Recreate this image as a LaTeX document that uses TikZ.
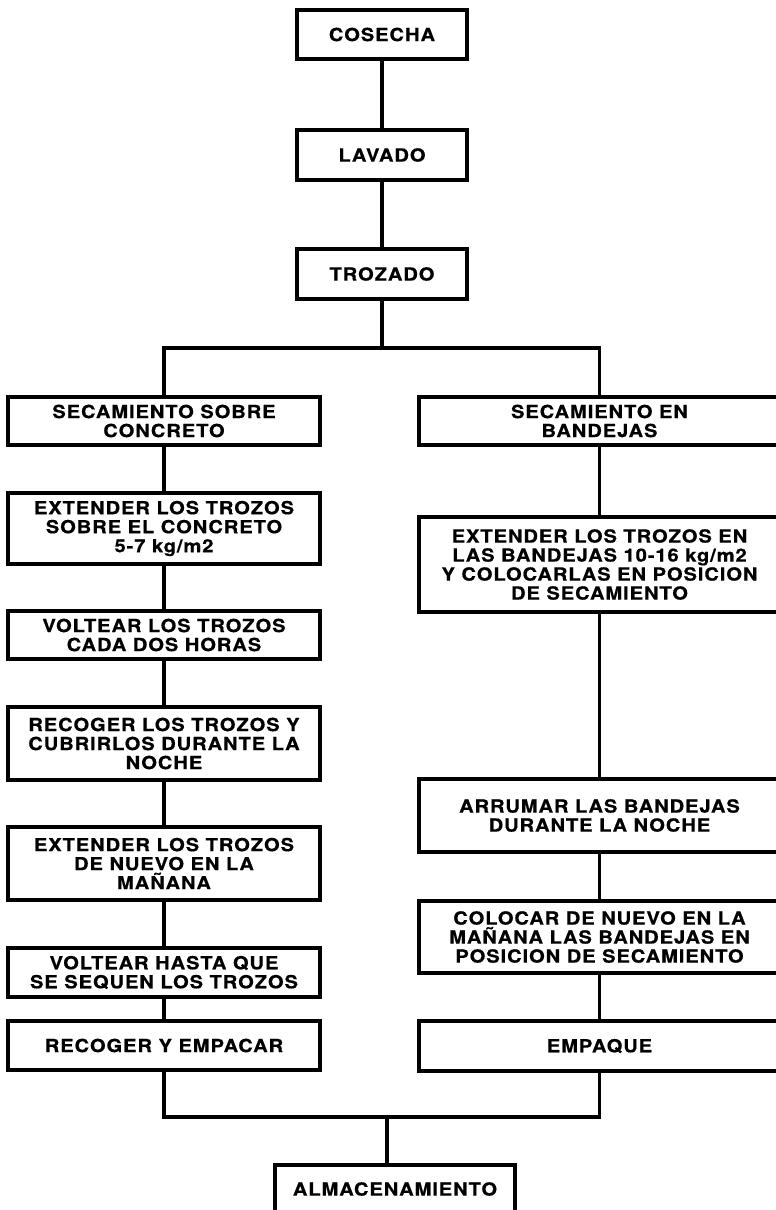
\documentclass[tikz,border=0pt]{standalone}
\usepackage{fontspec}
\setmainfont{TeX Gyre Heros}[FakeStretch=1.12,LetterSpace=5,BoldFeatures={FakeBold=0.6}]
\begin{document}
\begin{tikzpicture}[x=1pt,y=-1pt,
    stage/.style={rectangle,draw,line width=3.4pt,align=center,inner sep=0pt,
        font=\fontsize{18}{19}\selectfont\bfseries},
    link/.style={line width=3.4pt}]
                \useasboundingbox (0,0) rectangle (776,1210);
                % tronco comun
                \node[stage,minimum width=170pt,minimum height=49pt] (C) at (382,34.5) {COSECHA};
                \node[stage,minimum width=170pt,minimum height=50pt] (L) at (382,155) {LAVADO};
                \node[stage,minimum width=170pt,minimum height=50pt] (T) at (382,274) {TROZADO};
                \coordinate(bl)at(164,348);\coordinate(br)at(599.5,348);
                % rama izquierda
                \node[stage,minimum width=312pt,minimum height=48pt] (Sl) at (164,421) {SECAMIENTO SOBRE\\CONCRETO};
                \node[stage,minimum width=312pt,minimum height=71pt] (El) at (164,528.5) {EXTENDER LOS TROZOS\\SOBRE EL CONCRETO\\5-7 kg/m2};
                \node[stage,minimum width=312pt,minimum height=48pt] (Vl) at (164,635) {VOLTEAR LOS TROZOS\\CADA DOS HORAS};
                \node[stage,minimum width=312pt,minimum height=73pt] (Rl) at (164,743.5) {RECOGER LOS TROZOS Y\\CUBRIRLOS DURANTE LA\\NOCHE};
                \node[stage,minimum width=312pt,minimum height=73pt] (Nl) at (164,863.5) {EXTENDER LOS TROZOS\\DE NUEVO EN LA\\MAÑANA};
                \node[stage,minimum width=312pt,minimum height=49pt] (Hl) at (164,972.5) {VOLTEAR HASTA QUE\\SE SEQUEN LOS TROZOS};
                \node[stage,minimum width=312pt,minimum height=49pt] (Pl) at (164,1045.5) {RECOGER Y EMPACAR};
                % rama derecha
                \node[stage,minimum width=361pt,minimum height=48pt] (Sr) at (599.5,421) {SECAMIENTO EN\\BANDEJAS};
                \node[stage,minimum width=361pt,minimum height=95pt] (Er) at (599.5,564.5) {EXTENDER LOS TROZOS EN\\LAS BANDEJAS 10-16 kg/m2\\Y COLOCARLAS EN POSICION\\DE SECAMIENTO};
                \node[stage,minimum width=361pt,minimum height=73pt] (Ar) at (599.5,815.5) {ARRUMAR LAS BANDEJAS\\DURANTE LA NOCHE};
                \node[stage,minimum width=361pt,minimum height=72pt] (Cr) at (599.5,937) {COLOCAR DE NUEVO EN LA\\MAÑANA LAS BANDEJAS EN\\POSICION DE SECAMIENTO};
                \node[stage,minimum width=361pt,minimum height=50pt] (Pr) at (599.5,1046) {EMPAQUE};
                % union
                \coordinate(ml)at(164,1117);\coordinate(mr)at(599.5,1117);\coordinate(m)at(387,1117);
                \node[stage,minimum width=240pt,minimum height=48pt] (A) at (395,1189) {ALMACENAMIENTO};
                \draw [link] (C) -- (L) -- (T) -- (T|-bl);
                \draw [link] (Sl) |- (br) -- (Sr);
                \draw [link] (Sl) -- (El) -- (Vl) -- (Rl) -- (Nl) -- (Hl) -- (Pl);
                \draw [link] (Sr) -- (Er) -- (Ar) -- (Cr) -- (Pr);
                \draw [link] (Pl) |- (mr) -- (Pr);
                \draw [link] (m) -- (m|-A.north);
            \end{tikzpicture}
\end{document}
